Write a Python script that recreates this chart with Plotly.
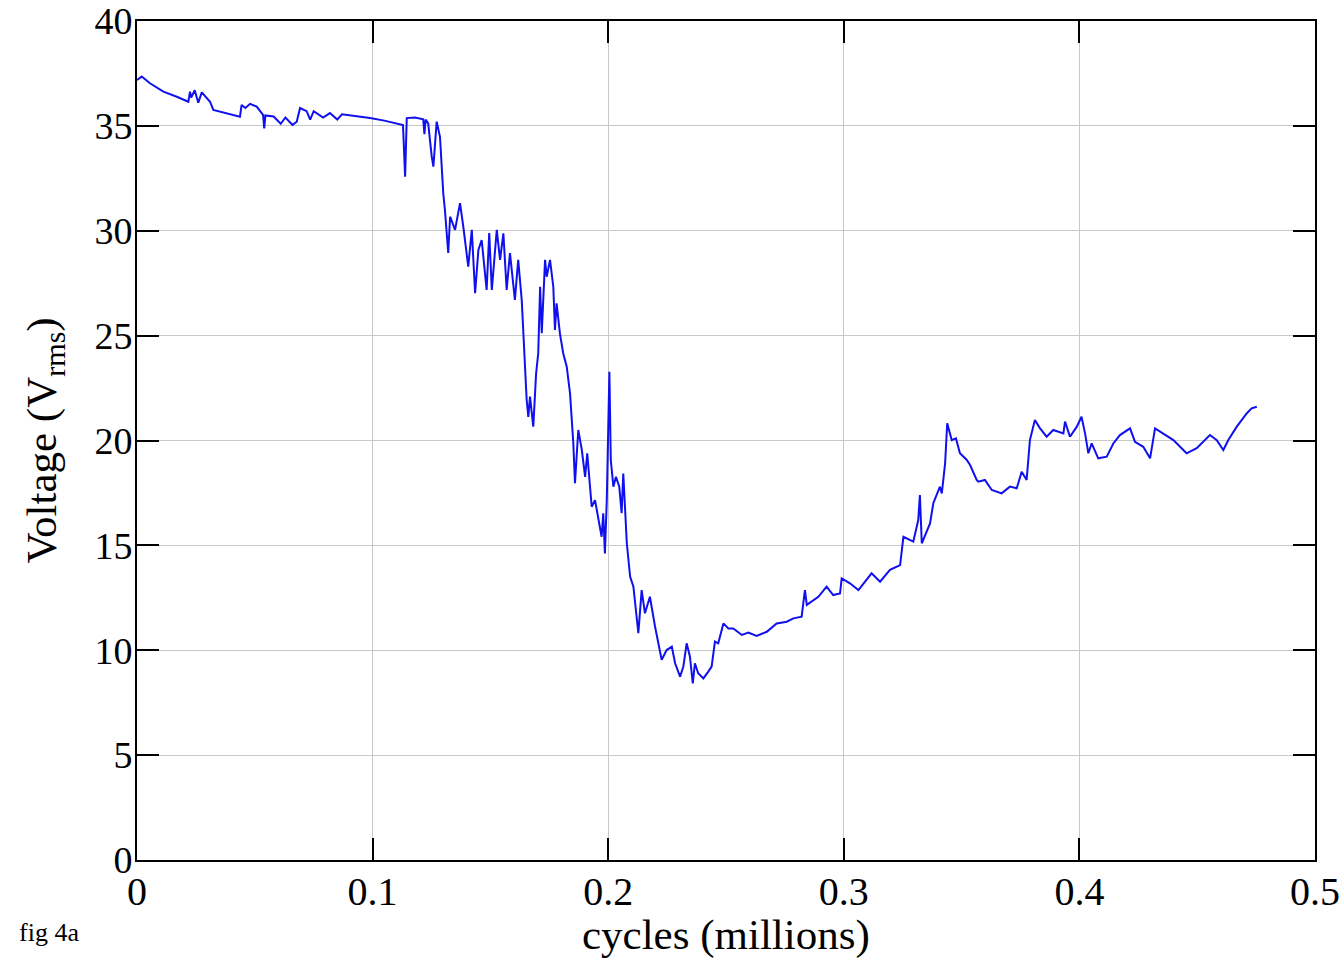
import plotly.graph_objects as go

# cycles (millions)
cycles = [
    0.0000, 0.0020, 0.0055, 0.0112, 0.0169, 0.0218, 0.0225, 0.0230, 0.0245, 0.0260,
    0.0275, 0.0290, 0.0310, 0.0324, 0.0437, 0.0444, 0.0460, 0.0480, 0.0508, 0.0535,
    0.0540, 0.0545, 0.0580, 0.0610, 0.0630, 0.0660, 0.0678, 0.0692, 0.0720, 0.0735,
    0.0750, 0.0790, 0.0819, 0.0850, 0.0870, 0.0989, 0.1050, 0.1129, 0.1138, 0.1145,
    0.1180, 0.1215, 0.1220, 0.1225, 0.1236, 0.1251, 0.1258, 0.1272, 0.1286, 0.1300,
    0.1307, 0.1321, 0.1329, 0.1350, 0.1371, 0.1385, 0.1406, 0.1421, 0.1435, 0.1449,
    0.1463, 0.1484, 0.1495, 0.1506, 0.1527, 0.1541, 0.1555, 0.1569, 0.1583, 0.1604,
    0.1618, 0.1633, 0.1640, 0.1654, 0.1661, 0.1668, 0.1682, 0.1694, 0.1703, 0.1711,
    0.1718, 0.1732, 0.1739, 0.1753, 0.1767, 0.1774, 0.1781, 0.1795, 0.1809, 0.1824,
    0.1838, 0.1852, 0.1859, 0.1873, 0.1888, 0.1902, 0.1911, 0.1930, 0.1944, 0.1958,
    0.1972, 0.1979, 0.1986, 0.1994, 0.2005, 0.2011, 0.2022, 0.2033, 0.2047, 0.2057,
    0.2064, 0.2079, 0.2093, 0.2107, 0.2128, 0.2142, 0.2156, 0.2177, 0.2199, 0.2227,
    0.2248, 0.2270, 0.2284, 0.2305, 0.2319, 0.2333, 0.2347, 0.2359, 0.2368, 0.2382,
    0.2404, 0.2425, 0.2439, 0.2453, 0.2467, 0.2489, 0.2510, 0.2531, 0.2567, 0.2595,
    0.2630, 0.2673, 0.2715, 0.2758, 0.2786, 0.2821, 0.2835, 0.2843, 0.2892, 0.2927,
    0.2955, 0.2984, 0.2991, 0.3026, 0.3062, 0.3118, 0.3154, 0.3196, 0.3239, 0.3253,
    0.3295, 0.3316, 0.3323, 0.3331, 0.3366, 0.3380, 0.3408, 0.3416, 0.3430, 0.3439,
    0.3458, 0.3476, 0.3493, 0.3522, 0.3536, 0.3564, 0.3571, 0.3599, 0.3628, 0.3670,
    0.3705, 0.3734, 0.3755, 0.3776, 0.3790, 0.3811, 0.3833, 0.3861, 0.3889, 0.3932,
    0.3939, 0.3960, 0.3989, 0.4009, 0.4024, 0.4038, 0.4052, 0.4080, 0.4116, 0.4144,
    0.4172, 0.4215, 0.4236, 0.4271, 0.4300, 0.4321, 0.4356, 0.4399, 0.4455, 0.4498,
    0.4554, 0.4583, 0.4611, 0.4632, 0.4668, 0.4710, 0.4731, 0.4753,
]

# voltage (V rms)
voltage = [
    37.19, 37.35, 37.03, 36.63, 36.39, 36.15, 36.63, 36.35, 36.70, 36.10,
    36.60, 36.40, 36.15, 35.76, 35.44, 36.00, 35.85, 36.05, 35.92, 35.52,
    34.88, 35.50, 35.45, 35.10, 35.40, 35.05, 35.20, 35.85, 35.70, 35.30,
    35.70, 35.40, 35.61, 35.30, 35.55, 35.37, 35.25, 35.04, 32.58, 35.37,
    35.40, 35.31, 34.60, 35.30, 35.12, 33.53, 33.06, 35.20, 34.48, 31.78,
    30.99, 28.94, 30.67, 30.04, 31.32, 30.19, 28.29, 30.04, 27.02, 29.08,
    29.56, 27.18, 29.89, 27.18, 30.04, 28.61, 29.88, 27.18, 28.94, 26.70,
    28.61, 26.70, 25.12, 21.93, 21.13, 22.09, 20.66, 23.20, 24.16, 27.33,
    25.11, 28.61, 27.81, 28.61, 27.33, 25.27, 26.54, 25.11, 24.16, 23.52,
    22.25, 19.86, 17.96, 20.50, 19.55, 18.27, 19.39, 16.84, 17.16, 16.37,
    15.41, 16.53, 14.62, 17.16, 23.28, 19.07, 17.80, 18.27, 17.80, 16.53,
    18.43, 15.10, 13.51, 13.03, 10.81, 12.87, 11.76, 12.55, 11.12, 9.54,
    10.01, 10.17, 9.38, 8.74, 9.22, 10.33, 9.69, 8.42, 9.38, 8.90,
    8.66, 8.98, 9.22, 10.41, 10.33, 11.28, 11.04, 11.04, 10.73, 10.84,
    10.68, 10.88, 11.28, 11.36, 11.52, 11.60, 12.87, 12.16, 12.55, 13.03,
    12.63, 12.71, 13.43, 13.19, 12.87, 13.67, 13.27, 13.83, 14.06, 15.41,
    15.18, 16.21, 17.40, 15.10, 16.05, 17.01, 17.80, 17.48, 18.91, 20.82,
    20.02, 20.10, 19.39, 19.07, 18.83, 18.12, 18.04, 18.12, 17.64, 17.48,
    17.80, 17.72, 18.51, 18.12, 20.02, 20.98, 20.58, 20.18, 20.50, 20.34,
    20.90, 20.18, 20.66, 21.13, 20.34, 19.39, 19.86, 19.15, 19.23, 19.86,
    20.26, 20.58, 19.94, 19.70, 19.15, 20.58, 20.34, 20.02, 19.39, 19.63,
    20.26, 20.02, 19.55, 20.02, 20.66, 21.29, 21.53, 21.61,
]

x_ticks = [0, 0.1, 0.2, 0.3, 0.4, 0.5]
x_tick_labels = ["0", "0.1", "0.2", "0.3", "0.4", "0.5"]
y_ticks = [0, 5, 10, 15, 20, 25, 30, 35, 40]
y_tick_labels = ["0", "5", "10", "15", "20", "25", "30", "35", "40"]

FONT = "Liberation Serif, Times New Roman, serif"

fig = go.Figure()
fig.add_trace(go.Scatter(
    x=cycles, y=voltage, mode="lines",
    line=dict(color="#1010ee", width=2),
    showlegend=False,
))

axis_common = dict(
    showline=True, linecolor="black", linewidth=2, mirror="ticks",
    ticks="inside", ticklen=22, tickwidth=2, tickcolor="black",
    showgrid=True, gridcolor="#c8c8c8", gridwidth=1,
    zeroline=False, automargin=False,
)

fig.update_xaxes(
    range=[0, 0.5], tickmode="array", tickvals=x_ticks, ticktext=x_tick_labels,
    ticklabelstandoff=-5, tickfont=dict(family=FONT, size=40, color="black"),
    **axis_common,
)
fig.update_yaxes(
    range=[0, 40], tickmode="array", tickvals=y_ticks, ticktext=y_tick_labels,
    ticklabelstandoff=-5, tickfont=dict(family=FONT, size=38, color="black"),
    **axis_common,
)

fig.update_layout(
    width=1344, height=960,
    margin=dict(l=137, r=29, t=21, b=100),
    plot_bgcolor="white", paper_bgcolor="white",
    annotations=[
        dict(text="cycles (millions)", xref="paper", yref="paper", x=0.5, y=0,
             yshift=-75, yanchor="middle", xanchor="center", showarrow=False,
             font=dict(family=FONT, size=43, color="black")),
        dict(text="Voltage (V<sub>rms</sub>)", xref="paper", yref="paper", x=0, y=0.5,
             xshift=-93, xanchor="center", yanchor="middle", textangle=-90,
             showarrow=False, font=dict(family=FONT, size=43, color="black")),
        dict(text="fig 4a", xref="paper", yref="paper", x=0, y=0,
             xshift=-120, yshift=-72, xanchor="left", yanchor="middle",
             showarrow=False, font=dict(family=FONT, size=26, color="black")),
    ],
)

fig.write_html(
    "out.html",
    config={"displayModeBar": False},
    post_script="document.body.style.margin='0';document.body.style.overflow='hidden';",
)
